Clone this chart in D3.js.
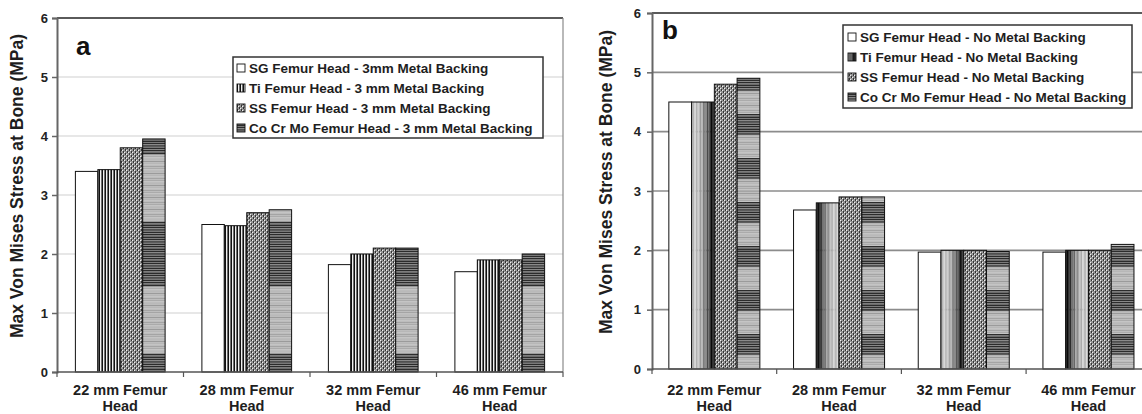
<!DOCTYPE html>
<html><head><meta charset="utf-8">
<script src="https://cdn.jsdelivr.net/npm/d3@7"></script>
<style>
body{margin:0;background:#fff;}
svg{display:block;font-family:"Liberation Sans",Arial,sans-serif;font-weight:bold;}
</style></head><body>
<svg id="c" width="1142" height="414"></svg>
<script>
// ---- data ----
const categories = ["22 mm Femur Head","28 mm Femur Head","32 mm Femur Head","46 mm Femur Head"];
const yTicks = [0,1,2,3,4,5,6];
const seriesA = ["SG Femur Head - 3mm Metal Backing","Ti Femur Head - 3 mm Metal Backing","SS Femur Head - 3 mm Metal Backing","Co Cr Mo Femur Head - 3 mm Metal Backing"];
const seriesB = ["SG Femur Head - No Metal Backing","Ti Femur Head - No Metal Backing","SS Femur Head - No Metal Backing","Co Cr Mo Femur Head - No Metal Backing"];
const sgA = [3.4, 2.5, 1.82, 1.7];
const tiA = [3.43, 2.48, 2.0, 1.9];
const ssA = [3.8, 2.7, 2.1, 1.9];
const coA = [3.95, 2.75, 2.1, 2.0];
const sgB = [4.5, 2.68, 1.97, 1.97];
const tiB = [4.5, 2.8, 2.0, 2.0];
const ssB = [4.8, 2.9, 2.0, 2.0];
const coB = [4.9, 2.9, 1.98, 2.1];

const svg = d3.select("#c");
const defs = svg.append("defs");
function pat(id,w,h,x,y){
  return defs.append("pattern").attr("id",id).attr("patternUnits","userSpaceOnUse")
    .attr("width",w).attr("height",h).attr("x",x||0).attr("y",y||0);
}
// Ti (panel a): fine vertical stripes
let p = pat("tiA",3,6);
p.append("rect").attr("width",3).attr("height",6).attr("fill","#f0f0f0");
p.append("rect").attr("width",1).attr("height",6).attr("fill","#111");
p.append("rect").attr("x",2).attr("width",1).attr("height",6).attr("fill","#6e6e6e");
// Ti (panel b): vertical stripes with shaded ramp
const PW = 35.6;
p = pat("tiB",PW,6,0,0);
const nS = 20;
for(let i=0;i<nS;i++){
  const o = (i+0.5)*PW/nS;
  const s = Math.sin(Math.PI*o/PW);
  let g = 25 + 195*Math.pow(s,0.8);
  if(i%2) g -= 45;
  g = Math.max(10,Math.min(235,g));
  p.append("rect").attr("x",i*PW/nS).attr("width",PW/nS+0.05).attr("height",6)
    .attr("fill",d3.rgb(g,g,g));
}
// SS: stipple
function stipple(id){
  const q = pat(id,4,4);
  q.append("rect").attr("width",4).attr("height",4).attr("fill","#959595");
  [[0,0],[2,2]].forEach(([x,y])=>q.append("rect").attr("x",x).attr("y",y).attr("width",1).attr("height",1).attr("fill","#f2f2f2"));
  [[3,0],[1,1],[3,3],[1,2]].forEach(([x,y])=>q.append("rect").attr("x",x).attr("y",y).attr("width",1).attr("height",1).attr("fill","#333"));
}
stipple("ssA"); stipple("ssB");
// Co Cr Mo: horizontal stripes in dark/light bands
function bands(id,H,dark,y0){
  const q = pat(id,10,H,0,y0);
  for(let y=0;y<H;y+=2.4){
    const inDark = y < dark;
    q.append("rect").attr("y",y).attr("width",10).attr("height",1.6).attr("fill",inDark?"#2c2c2c":"#bdbdbd");
    q.append("rect").attr("y",y+1.6).attr("width",10).attr("height",0.8).attr("fill",inDark?"#747474":"#858585");
  }
}
bands("coA",132,64,222);
bands("coB",44,20,290);

function panel(cfg){
  const {left,right,top,bottom,vals,series,fills,grid,gridW,tickPad,pad} = cfg;
  const g = svg.append("g");
  const y = d3.scaleLinear().domain([0,6]).range([bottom,top]);
  const x0 = d3.scaleBand().domain(categories).range([left,left+4*cfg.band]);
  const x1 = d3.scaleBand().domain(series).range([0,x0.bandwidth()]).paddingOuter(pad);

  // gridlines
  g.selectAll("line.grid").data(yTicks.filter(t=>t>0&&t<6)).join("line")
    .attr("x1",left).attr("x2",right).attr("y1",d=>y(d)).attr("y2",d=>y(d))
    .attr("stroke",grid).attr("stroke-width",gridW);
  g.append("line").attr("x1",left).attr("x2",right).attr("y1",y(6)).attr("y2",y(6))
    .attr("stroke","#5a5a5a").attr("stroke-width",2);
  if(cfg.rightBorder){
    g.append("line").attr("x1",right).attr("x2",right).attr("y1",y(6)).attr("y2",y(0))
      .attr("stroke","#8a8a8a").attr("stroke-width",1.2);
  }

  // bars
  series.forEach((s,si)=>{
    g.append("g").selectAll("rect").data(categories).join("rect")
      .attr("x",d=>x0(d)+x1(s)).attr("width",x1.bandwidth())
      .attr("y",(d,i)=>y(vals[si][i])).attr("height",(d,i)=>y(0)-y(vals[si][i]))
      .attr("fill",fills[si]).attr("stroke","#111").attr("stroke-width",1);
  });

  // y axis
  const ya = g.append("g").attr("transform",`translate(${left},0)`)
    .call(d3.axisLeft(y).tickValues(yTicks).tickFormat(d3.format("d")).tickSize(5).tickPadding(tickPad));
  ya.attr("font-family","'Liberation Sans',Arial,sans-serif").attr("font-size",13);
  ya.select(".domain").attr("stroke","#666").attr("stroke-width",2);
  ya.selectAll(".tick line").attr("stroke","#666").attr("stroke-width",1.5);
  ya.selectAll(".tick text").attr("font-size",13).attr("font-weight","bold").attr("fill","#222");

  // x axis baseline + boundary ticks
  const xa = g.append("g").attr("transform",`translate(0,${y(0)})`)
    .call(d3.axisBottom(x0).tickSize(0).tickFormat(""));
  xa.select(".domain").attr("stroke","#555").attr("stroke-width",1.6)
    .attr("d",`M${left},0H${right}`);
  const bounds = categories.map(c=>x0(c)).concat([x0(categories[3])+x0.bandwidth()]).filter(v=>v<=right+1);
  g.selectAll("line.xt").data(bounds).join("line")
    .attr("x1",d=>d).attr("x2",d=>d).attr("y1",y(0)).attr("y2",y(0)+5)
    .attr("stroke","#555").attr("stroke-width",1.2);
  // category labels
  const lab = g.selectAll("text.cat").data(categories).join("text")
    .attr("x",d=>x0(d)+x0.bandwidth()/2).attr("text-anchor","middle")
    .attr("font-size",14.5).attr("fill","#1e1e1e");
  lab.append("tspan").attr("x",d=>x0(d)+x0.bandwidth()/2).attr("y",cfg.catY)
    .text(d=>d.replace(/ Head$/,""));
  lab.append("tspan").attr("x",d=>x0(d)+x0.bandwidth()/2).attr("y",cfg.catY+16).text("Head");

  // y title
  g.append("text").attr("transform",`translate(${cfg.titleX},${cfg.titleY}) rotate(-90)`)
    .attr("text-anchor","middle").attr("font-size",17.5).attr("fill","#1e1e1e")
    .text("Max Von Mises Stress at Bone (MPa)");

  // panel letter
  g.append("text").attr("x",cfg.letterX).attr("y",cfg.letterY).attr("font-size",26)
    .attr("fill","#111").text(cfg.letter);

  // legend
  const L = cfg.legend;
  const lg = g.append("g");
  lg.append("rect").attr("x",L.x).attr("y",L.y).attr("width",L.w).attr("height",L.h)
    .attr("fill","#fff").attr("stroke","#333").attr("stroke-width",1.5);
  const row = lg.selectAll("g.row").data(series).join("g")
    .attr("transform",(d,i)=>`translate(0,${L.y+L.first+i*20})`);
  row.append("rect").attr("x",L.sx).attr("y",-4).attr("width",8).attr("height",8)
    .attr("fill",(d,i)=>fills[i]).attr("stroke","#111").attr("stroke-width",0.9);
  row.append("text").attr("x",L.tx).attr("y",5).attr("font-size",13.5).attr("fill","#1e1e1e").text(d=>d);
}

panel({left:57,right:563,top:18,bottom:372,band:126.5,pad:0.82,vals:[sgA,tiA,ssA,coA],series:seriesA,
  fills:["#fff","url(#tiA)","url(#ssA)","url(#coA)"],grid:"#cfcfcf",gridW:1.2,tickPad:4,rightBorder:true,
  catY:395,titleX:23,titleY:186,letter:"a",letterX:76,letterY:55,
  legend:{x:233,y:57,w:310,h:81,first:11,sx:237,tx:249}});
panel({left:652,right:1142,top:13,bottom:369,band:124.7,pad:0.74,vals:[sgB,tiB,ssB,coB],series:seriesB,
  fills:["#fff","url(#tiB)","url(#ssB)","url(#coB)"],grid:"#8c8c8c",gridW:1.6,tickPad:6,rightBorder:false,
  catY:395,titleX:612,titleY:182,letter:"b",letterX:662,letterY:39,
  legend:{x:843,y:25,w:289,h:83,first:12,sx:848,tx:860}});
</script>
</body></html>
